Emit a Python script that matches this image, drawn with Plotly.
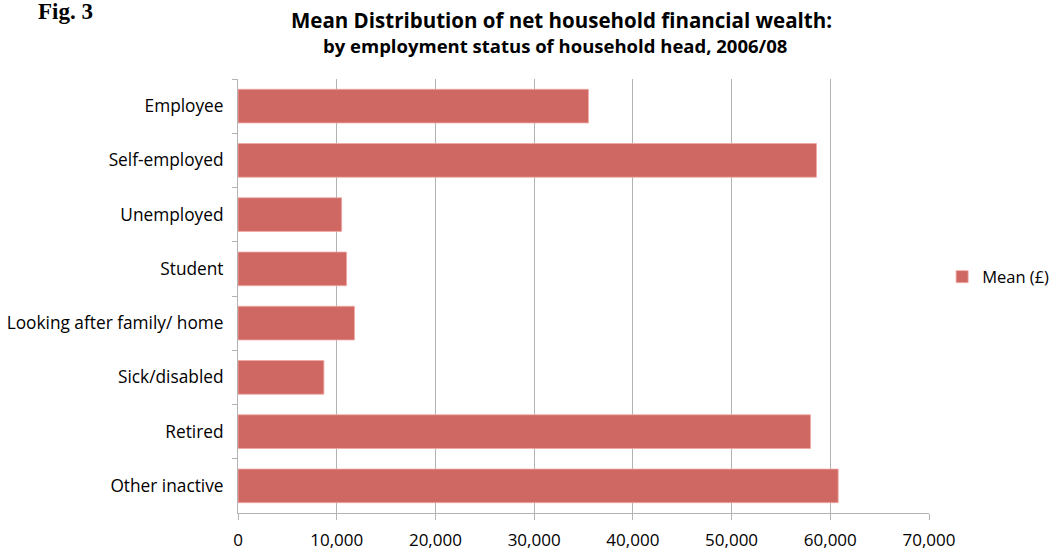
import plotly.graph_objects as go

categories = ["Employee", "Self-employed", "Unemployed", "Student",
              "Looking after family/ home", "Sick/disabled", "Retired", "Other inactive"]
mean_values = [35500, 58600, 10500, 11000, 11800, 8700, 58000, 60800]
x_ticks = [0, 10000, 20000, 30000, 40000, 50000, 60000, 70000]
x_tick_labels = ["0", "10,000", "20,000", "30,000", "40,000", "50,000", "60,000", "70,000"]

FONT = "Open Sans"
GRID = "#b3b3b3"

fig = go.Figure()
fig.add_trace(go.Bar(
    x=mean_values, y=categories, orientation="h", name="Mean (£)",
    marker=dict(color="#CF6762", line=dict(color="rgba(240,170,165,0.8)", width=1)),
    width=0.62, showlegend=True,
))

fig.update_layout(
    width=1053, height=550,
    margin=dict(l=238, r=124, t=79, b=37, autoexpand=False),
    paper_bgcolor="white", plot_bgcolor="white",
    font=dict(family=FONT, size=17, color="#000000"),
    showlegend=True,
    legend=dict(x=1.019, y=0.544, xanchor="left", yanchor="middle",
                font=dict(family=FONT, size=16.5), itemwidth=30,
                bgcolor="rgba(0,0,0,0)"),
    xaxis=dict(range=[0, 70000], tickvals=x_ticks, ticktext=x_tick_labels,
               showgrid=True, gridcolor=GRID, gridwidth=1,
               showline=True, linecolor=GRID, linewidth=1,
               ticks="outside", ticklen=6, tickcolor=GRID,
               ticklabelstandoff=6, zeroline=False,
               tickfont=dict(family=FONT, size=17)),
    yaxis=dict(categoryorder="array", categoryarray=categories, autorange="reversed",
               showline=True, linecolor=GRID, linewidth=1,
               ticks="outside", ticklen=5, tickcolor=GRID, tickson="boundaries",
               ticklabelstandoff=10,
               tickfont=dict(family=FONT, size=17.3)),
    bargap=0.38,
)

fig.add_annotation(text="<b>Mean Distribution of net household financial wealth:</b>",
                   x=(561-238)/691, y=1+(79-20)/434, xref="paper", yref="paper",
                   showarrow=False, xanchor="center", yanchor="middle",
                   font=dict(family="Open Sans", size=20.5, color="#000"))
fig.add_annotation(text="<b>by employment status of household head, 2006/08</b>",
                   x=(555-238)/691, y=1+(79-46)/434, xref="paper", yref="paper",
                   showarrow=False, xanchor="center", yanchor="middle",
                   font=dict(family="Open Sans", size=18.5, color="#000"))
fig.add_annotation(text="<b>Fig. 3</b>",
                   x=(36-238)/691, y=1+(79-12)/434, xref="paper", yref="paper",
                   showarrow=False, xanchor="left", yanchor="middle",
                   font=dict(family="Liberation Serif", size=23, color="#000"))

fig.write_html("out.html")
